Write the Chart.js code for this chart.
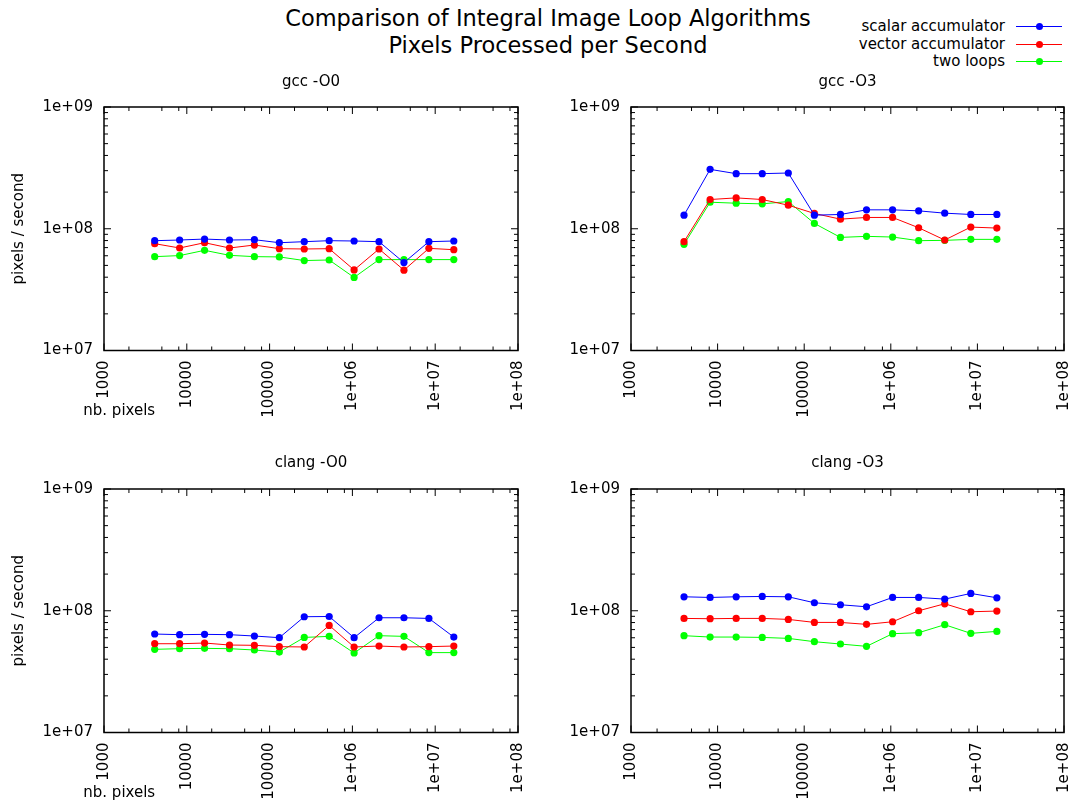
<!DOCTYPE html>
<html>
<head>
<meta charset="utf-8">
<title>Comparison of Integral Image Loop Algorithms</title>
<script src="https://cdn.jsdelivr.net/npm/chart.js@4.4.1/dist/chart.umd.min.js"></script>
<style>
    body { margin: 0; background: #fff; }
    #pagina { position: relative; width: 1071px; height: 803px; overflow: hidden; font-family: "DejaVu Sans", sans-serif; color: #000; }
    .panel { position: absolute; }
    #titulo { position: absolute; left: 248px; width: 600px; top: 5px; text-align: center; font-size: 22.5px; line-height: 26.7px; }
    .ley-txt { position: absolute; right: 66px; font-size: 15px; line-height: 18px; white-space: nowrap; }
    .ley-linea { position: absolute; left: 1016px; width: 46px; height: 1px; }
    .ley-punto { position: absolute; left: 1035.5px; width: 7px; height: 7px; border-radius: 50%; }
</style>
</head>
<body>
<div id="pagina">
    <div id="titulo">Comparison of Integral Image Loop Algorithms<br>Pixels Processed per Second</div>
    <div id="leyenda"></div>
    <canvas id="gccO0" class="panel"></canvas>
    <canvas id="gccO3" class="panel"></canvas>
    <canvas id="clangO0" class="panel"></canvas>
    <canvas id="clangO3" class="panel"></canvas>
</div>
<script>
// nb. pixels (eje x)
const nbPixels = [4096, 8192, 16384, 32768, 65536, 131072, 262144, 524288, 1048576, 2097152, 4194304, 8388608, 16777216];

const seriesNames = ['scalar accumulator', 'vector accumulator', 'two loops'];
const seriesColors = ['#0000ff', '#ff0000', '#00ff00'];

// pixels / second
const gccO0Scalar   = [79.8e6, 80.8e6, 82.3e6, 80.8e6, 81.3e6, 76.8e6, 78.3e6, 79.8e6, 79.3e6, 78.3e6, 52.7e6, 78.3e6, 79.3e6];
const gccO0Vector   = [75.4e6, 69.5e6, 76.8e6, 69.5e6, 73.5e6, 68.6e6, 68.2e6, 68.6e6, 45.9e6, 68.2e6, 45.7e6, 69.0e6, 67.3e6];
const gccO0TwoLoops = [59.0e6, 60.2e6, 66.5e6, 60.5e6, 59.0e6, 58.7e6, 54.8e6, 55.4e6, 39.8e6, 55.8e6, 55.8e6, 55.8e6, 55.8e6];

const gccO3Scalar   = [129.3e6, 307.4e6, 283.4e6, 283.4e6, 287.0e6, 129.3e6, 131.0e6, 143.0e6, 143.0e6, 140.3e6, 134.3e6, 131.0e6, 131.0e6];
const gccO3Vector   = [78.3e6, 173.8e6, 179.3e6, 173.8e6, 156.1e6, 133.5e6, 119.9e6, 123.8e6, 123.8e6, 101.9e6, 80.8e6, 103.2e6, 101.3e6];
const gccO3TwoLoops = [74.5e6, 165.2e6, 162.1e6, 160.1e6, 167.3e6, 110.6e6, 84.9e6, 86.6e6, 85.5e6, 79.8e6, 80.3e6, 81.8e6, 81.8e6];

const clangO0Scalar   = [64.4e6, 63.6e6, 64.0e6, 63.6e6, 62.0e6, 60.1e6, 89.3e6, 89.7e6, 60.1e6, 87.6e6, 87.6e6, 86.5e6, 60.8e6];
const clangO0Vector   = [53.6e6, 53.6e6, 54.3e6, 52.3e6, 52.0e6, 50.7e6, 50.4e6, 75.8e6, 50.4e6, 51.3e6, 50.4e6, 50.7e6, 51.3e6];
const clangO0TwoLoops = [48.2e6, 48.8e6, 49.1e6, 48.8e6, 47.6e6, 45.8e6, 60.4e6, 61.6e6, 45.0e6, 62.4e6, 61.6e6, 45.3e6, 45.3e6];

const clangO3Scalar   = [130.2e6, 128.6e6, 130.2e6, 131.0e6, 130.2e6, 116.3e6, 112.0e6, 107.8e6, 128.6e6, 128.6e6, 124.6e6, 138.7e6, 127.8e6];
const clangO3Vector   = [86.5e6, 86.0e6, 86.5e6, 86.5e6, 84.9e6, 80.2e6, 80.2e6, 77.3e6, 81.2e6, 100.0e6, 114.1e6, 98.1e6, 99.4e6];
const clangO3TwoLoops = [62.4e6, 60.8e6, 60.8e6, 60.4e6, 59.3e6, 55.7e6, 53.3e6, 51.0e6, 64.8e6, 66.0e6, 76.8e6, 65.2e6, 67.7e6];

// ticks
const xTickValues = [1e3, 1e4, 1e5, 1e6, 1e7, 1e8];
const xTickLabels = ['1000', '10000', '100000', '1e+06', '1e+07', '1e+08'];
const yTickValues = [1e7, 1e8, 1e9];
const yTickLabels = ['1e+07', '1e+08', '1e+09'];
const xMinorSteps = [2, 5, 8];
const yMinorSteps = [2, 3, 4, 5, 6, 7, 8, 9];

const FUENTE = '"DejaVu Sans", sans-serif';

/**
 * Paneles del multiplot (posición del canvas y márgenes del área de trazado)
 */
var paneles = [
    { id: 'gccO0', titulo: 'gcc -O0', series: [gccO0Scalar, gccO0Vector, gccO0TwoLoops],
      left: 0, top: 60, width: 535, height: 370, anchoY: 104, derecha: 17, tit: [13, 16], altoX: 79.5, etiquetas: true },
    { id: 'gccO3', titulo: 'gcc -O3', series: [gccO3Scalar, gccO3Vector, gccO3TwoLoops],
      left: 535, top: 60, width: 536, height: 370, anchoY: 96, derecha: 7, tit: [13, 16], altoX: 79.5, etiquetas: false },
    { id: 'clangO0', titulo: 'clang -O0', series: [clangO0Scalar, clangO0Vector, clangO0TwoLoops],
      left: 0, top: 442, width: 535, height: 361, anchoY: 104, derecha: 17, tit: [12, 17], altoX: 70.5, etiquetas: true },
    { id: 'clangO3', titulo: 'clang -O3', series: [clangO3Scalar, clangO3Vector, clangO3TwoLoops],
      left: 535, top: 442, width: 536, height: 361, anchoY: 96, derecha: 7, tit: [12, 17], altoX: 70.5, etiquetas: false }
];

/**
 * Marco estilo gnuplot: borde y ticks hacia dentro en los cuatro lados
 */
var marcoPlugin = {
    id: 'marco',
    beforeDatasetsDraw: function(chart) {
        const ctx = chart.ctx;
        const a = chart.chartArea;
        const x = chart.scales.x;
        const y = chart.scales.y;
        ctx.save();
        ctx.strokeStyle = '#000';
        ctx.lineWidth = 1;
        ctx.beginPath();
        var tickX = function(v, len) {
            const px = x.getPixelForValue(v);
            ctx.moveTo(px, a.bottom); ctx.lineTo(px, a.bottom - len);
            ctx.moveTo(px, a.top); ctx.lineTo(px, a.top + len);
        };
        var tickY = function(v, len) {
            const py = y.getPixelForValue(v);
            ctx.moveTo(a.left, py); ctx.lineTo(a.left + len, py);
            ctx.moveTo(a.right, py); ctx.lineTo(a.right - len, py);
        };
        xTickValues.forEach(function(v, i) {
            tickX(v, 7);
            if (i < xTickValues.length - 1) {
                xMinorSteps.forEach(function(m) { tickX(v * m, 4); });
            }
        });
        yTickValues.forEach(function(v, i) {
            tickY(v, 7);
            if (i < yTickValues.length - 1) {
                yMinorSteps.forEach(function(m) { tickY(v * m, 4); });
            }
        });
        ctx.stroke();
        ctx.lineWidth = 1.5;
        ctx.strokeRect(a.left, a.top, a.right - a.left, a.bottom - a.top);
        ctx.restore();
    },
    afterDraw: function(chart, args, opts) {
        if (!opts.etiqueta) return;
        const ctx = chart.ctx;
        ctx.save();
        ctx.font = '15px ' + FUENTE;
        ctx.fillStyle = '#000';
        ctx.textAlign = 'left';
        ctx.textBaseline = 'middle';
        ctx.fillText(opts.etiqueta, 83.3, chart.chartArea.bottom + 60.2);
        ctx.restore();
    }
};

/**
 * Arma los datasets de un panel
 */
var obtenerDatasets = function(series) {
    return series.map(function(serie, i) {
        return {
            label: seriesNames[i],
            data: nbPixels.map(function(n, k) { return { x: n, y: serie[k] }; }),
            borderColor: seriesColors[i],
            backgroundColor: seriesColors[i],
            borderWidth: 1,
            pointRadius: 3.6,
            pointBorderWidth: 0,
            pointHoverRadius: 3.6,
            tension: 0,
            fill: false
        };
    });
};

paneles.forEach(function(p) {
    const canvas = document.getElementById(p.id);
    canvas.width = p.width;
    canvas.height = p.height;
    canvas.style.left = p.left + 'px';
    canvas.style.top = p.top + 'px';

    new Chart(canvas, {
        type: 'line',
        data: { datasets: obtenerDatasets(p.series) },
        plugins: [marcoPlugin],
        options: {
            responsive: false,
            animation: false,
            events: [],
            layout: { autoPadding: false, padding: { left: 0, right: p.derecha, top: 0, bottom: 0 } },
            plugins: {
                legend: { display: false },
                tooltip: { enabled: false },
                title: {
                    display: true,
                    text: p.titulo,
                    fullSize: false,
                    color: '#000',
                    font: { family: FUENTE, size: 15, weight: 'normal', lineHeight: 1.2 },
                    padding: { top: p.tit[0], bottom: p.tit[1] }
                },
                marco: { etiqueta: p.etiquetas ? 'nb. pixels' : null }
            },
            scales: {
                x: {
                    type: 'logarithmic',
                    min: 1e3,
                    max: 1e8,
                    grid: { display: false, drawTicks: false },
                    border: { display: false },
                    afterBuildTicks: function(s) { s.ticks = xTickValues.map(function(v) { return { value: v }; }); },
                    afterFit: function(s) {
                        s.height = p.altoX;
                        s.paddingLeft = 0;
                        s.paddingRight = 0;
                    },
                    ticks: {
                        autoSkip: false,
                        minRotation: 90,
                        maxRotation: 90,
                        padding: 10,
                        color: '#000',
                        font: { family: FUENTE, size: 15 },
                        callback: function(v, i) { return xTickLabels[i]; }
                    }
                },
                y: {
                    type: 'logarithmic',
                    min: 1e7,
                    max: 1e9,
                    grid: { display: false, drawTicks: false },
                    border: { display: false },
                    afterBuildTicks: function(s) { s.ticks = yTickValues.map(function(v) { return { value: v }; }); },
                    afterFit: function(s) {
                        s.width = p.anchoY;
                        s.paddingTop = 0;
                        s.paddingBottom = 0;
                    },
                    ticks: {
                        autoSkip: false,
                        padding: 11,
                        color: '#000',
                        font: { family: FUENTE, size: 15 },
                        callback: function(v, i) { return yTickLabels[i]; }
                    },
                    title: {
                        display: p.etiquetas,
                        text: 'pixels / second',
                        color: '#000',
                        font: { family: FUENTE, size: 15, lineHeight: 1.2 },
                        padding: { top: 10 }
                    }
                }
            }
        }
    });
});

// leyenda arriba a la derecha
const filasLeyenda = [26.5, 44, 61.5];
const leyenda = document.getElementById('leyenda');
seriesNames.forEach(function(nombre, i) {
    const c = filasLeyenda[i];
    const txt = document.createElement('div');
    txt.className = 'ley-txt';
    txt.style.top = (c - 9.5) + 'px';
    txt.textContent = nombre;
    const linea = document.createElement('div');
    linea.className = 'ley-linea';
    linea.style.top = (c - 0.5) + 'px';
    linea.style.background = seriesColors[i];
    const punto = document.createElement('div');
    punto.className = 'ley-punto';
    punto.style.top = (c - 3.5) + 'px';
    punto.style.background = seriesColors[i];
    leyenda.appendChild(txt);
    leyenda.appendChild(linea);
    leyenda.appendChild(punto);
});
</script>
</body>
</html>
